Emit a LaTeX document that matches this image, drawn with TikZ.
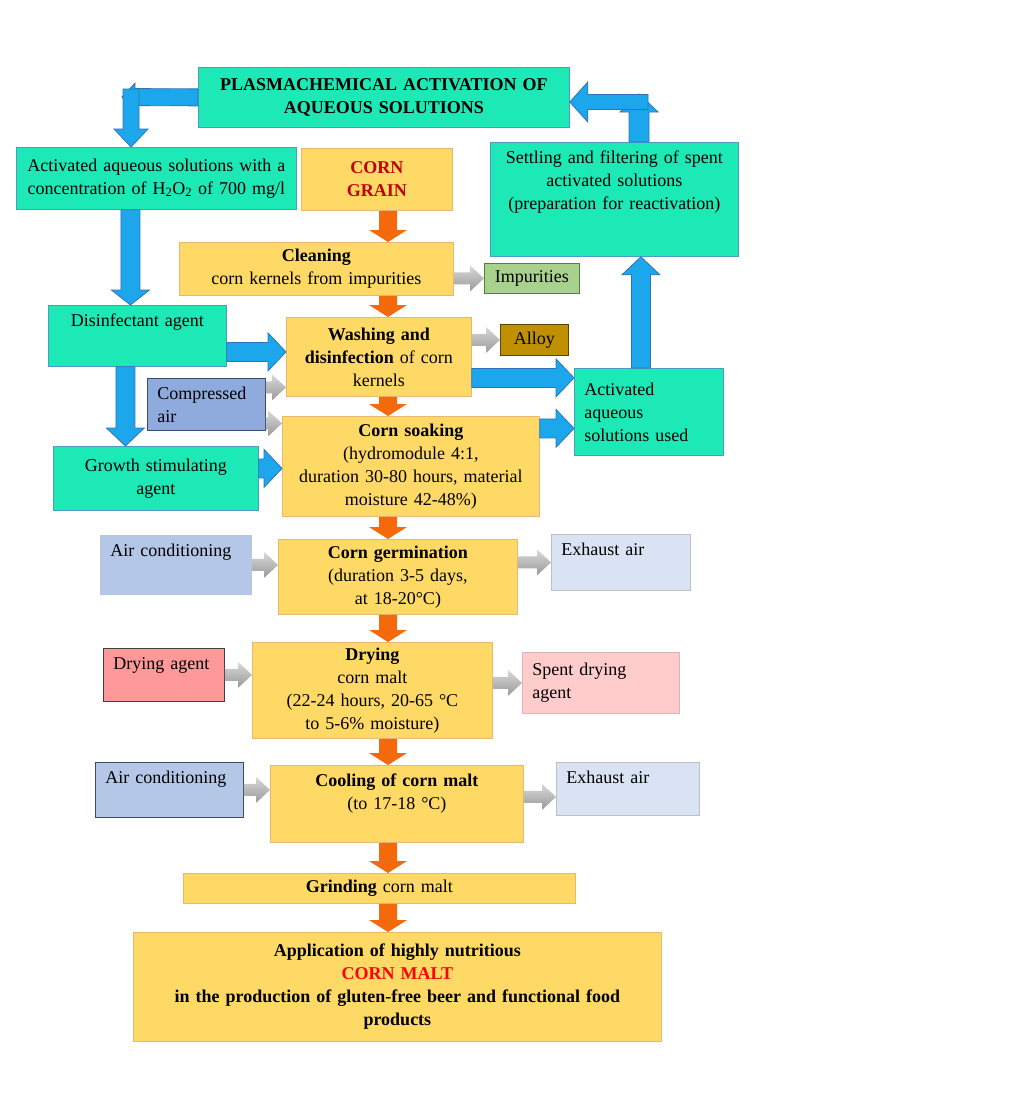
\documentclass[tikz,border=0pt]{standalone}
\usepackage{fontspec}
\setmainfont{Liberation Serif}
\usetikzlibrary{calc}
\definecolor{aquafill}{HTML}{1DE9B6}
\definecolor{aquaedge}{HTML}{4C9CC4}
\definecolor{cornfill}{HTML}{FFD966}
\definecolor{cornedge}{HTML}{E8B870}
\definecolor{orng}{HTML}{F4690C}
\definecolor{bluefill}{HTML}{1CA7EC}
\definecolor{blueedge}{HTML}{2E75B6}
\definecolor{impfill}{HTML}{A9D18E}
\definecolor{impedge}{HTML}{548235}
\definecolor{alloyfill}{HTML}{BF9000}
\definecolor{alloyedge}{HTML}{5A4500}
\definecolor{compfill}{HTML}{8FAADC}
\definecolor{compedge}{HTML}{3A4A6A}
\definecolor{airfill}{HTML}{B4C7E7}
\definecolor{exhfill}{HTML}{DAE3F3}
\definecolor{exhedge}{HTML}{BFBFBF}
\definecolor{dagfill}{HTML}{FF9999}
\definecolor{spentfill}{HTML}{FFCCCC}
\definecolor{spentedge}{HTML}{E0B4B4}
\definecolor{grainred}{HTML}{C00000}
\definecolor{maltred}{HTML}{FF0000}

% text pinned to the top of a box
\newcommand{\topin}[2]{\parbox[t][#1][t]{\linewidth}{#2}}

\tikzset{
  arrw/.store in=\arrw, arrh/.store in=\arrh, arrl/.store in=\arrl,
  arrw=9pt, arrh=19pt, arrl=12pt,
  block/.style={to path={
    let \p1=(\tikztostart), \p2=(\tikztotarget),
        \n1={atan2(\y2-\y1,\x2-\x1)} in
    ($(\p1)+({\n1+90}:\arrw)$) -- ($(\p2)!\arrl!(\p1)+({\n1+90}:\arrw)$)
    -- ($(\p2)!\arrl!(\p1)+({\n1+90}:\arrh)$) -- (\p2)
    -- ($(\p2)!\arrl!(\p1)+({\n1-90}:\arrh)$)
    -- ($(\p2)!\arrl!(\p1)+({\n1-90}:\arrw)$)
    -- ($(\p1)+({\n1-90}:\arrw)$) -- cycle}},
}

\begin{document}
\begin{tikzpicture}[x=1pt, y=-1pt,
   font=\fontsize{18}{23}\selectfont,
   box/.style={rectangle, line width=0.8pt, inner xsep=3pt, inner ysep=5pt,
               align=center, anchor=north west},
   wh/.style 2 args={minimum width=#1pt, minimum height=#2pt, text width=#1pt-6pt},
   lwh/.style 2 args={minimum width=#1pt, minimum height=#2pt, inner xsep=10pt,
                      text width=#1pt-20pt, align=left},
   aquabox/.style={box, fill=aquafill, draw=aquaedge},
   cornbox/.style={box, fill=cornfill, draw=cornedge},
   orarr/.style={fill=orng, draw=none, block, arrw=9pt, arrh=19pt, arrl=12pt},
   bluarr/.style={fill=bluefill, draw=blueedge, line width=0.8pt, block,
                  arrw=9.5pt, arrh=19pt, arrl=18pt},
   grayarr/.style={top color=gray!30, bottom color=gray!80, draw=none, block,
                   arrw=6pt, arrh=13pt, arrl=14pt},
]
  \useasboundingbox[fill=white] (0,0) rectangle (1023,1100);
  \coordinate (spine) at (388,0);

  % main line
  \node[aquabox, wh={371}{60}] (plasma) at (198,67)
       {\bfseries PLASMACHEMICAL ACTIVATION OF\\ AQUEOUS SOLUTIONS};
  \node[aquabox, wh={280}{62}] (act) at (16,147)
       {Activated aqueous solutions with a\\ concentration of H\textsubscript{2}O\textsubscript{2} of 700 mg/l};
  \node[cornbox, wh={151}{62}, text=grainred] (grain) at (301,148) {\bfseries CORN\\ GRAIN};
  \node[aquabox, wh={248}{114}] (settle) at (490,142)
       {\topin{104pt}{\centering\strut Settling and filtering of spent\\ activated solutions\\ (preparation for reactivation)}};
  \node[cornbox, wh={274}{53}] (clean) at (179,242)
       {\textbf{Cleaning}\\ corn kernels from impurities};
  \node[box, wh={95}{30}, fill=impfill, draw=impedge] (impur) at (484,263) {Impurities};
  \node[aquabox, wh={178}{61}] (disinf) at (48,305)
       {\topin{51pt}{\centering\strut Disinfectant agent}};
  \node[cornbox, wh={185}{79}] (wash) at (286,317)
       {\textbf{Washing and}\\ \textbf{disinfection} of corn\\ kernels};
  \node[box, wh={68}{31}, fill=alloyfill, draw=alloyedge] (alloy) at (500,324) {Alloy};
  \node[box, lwh={118}{52}, fill=compfill, draw=compedge] (comp) at (147,378) {Compressed\\ air};
  \node[aquabox, lwh={149}{87}] (used) at (574,368) {Activated\\ aqueous\\ solutions used};
  \node[cornbox, wh={257}{100}] (soak) at (282,416)
       {\textbf{Corn soaking}\\ (hydromodule 4:1,\\ duration 30-80 hours, material\\ moisture 42-48\%)};
  \node[aquabox, wh={205}{64}] (growth) at (53,446) {Growth stimulating\\ agent};
  \node[box, lwh={151}{59}, fill=airfill, draw=airfill] (acond1) at (100,535)
       {\topin{49pt}{\raggedright\strut Air conditioning}};
  \node[cornbox, wh={239}{75}] (germ) at (278,539)
       {\textbf{Corn germination}\\ (duration 3-5 days,\\ at 18-20°C)};
  \node[box, lwh={139}{56}, fill=exhfill, draw=exhedge] (exh1) at (551,534)
       {\topin{46pt}{\raggedright\strut Exhaust air}};
  \node[box, lwh={121}{53}, fill=dagfill, draw=black!75] (dagent) at (103,648)
       {\topin{43pt}{\raggedright\strut Drying agent}};
  \node[cornbox, wh={240}{96}] (dry) at (252,642)
       {\textbf{Drying}\\ corn malt\\ (22-24 hours, 20-65 °C\\ to 5-6\% moisture)};
  \node[box, lwh={157}{61}, fill=spentfill, draw=spentedge] (spent) at (522,652) {Spent drying\\ agent};
  \node[box, lwh={148}{55}, fill=airfill, draw=compedge] (acond2) at (95,762)
       {\topin{45pt}{\raggedright\strut Air conditioning}};
  \node[cornbox, wh={253}{77}] (cool) at (270,765)
       {\topin{67pt}{\centering\strut\textbf{Cooling of corn malt}\\ (to 17-18 °C)}};
  \node[box, lwh={143}{53}, fill=exhfill, draw=exhedge] (exh2) at (556,762)
       {\topin{43pt}{\raggedright\strut Exhaust air}};
  \node[cornbox, wh={392}{30}] (grind) at (183,873) {\textbf{Grinding} corn malt};
  \node[cornbox, wh={528}{109}] (app) at (133,932)
       {\bfseries Application of highly nutritious\\ \textcolor{maltred}{CORN MALT}\\
        in the production of gluten-free beer and functional food\\ products};

  % process flow
  \draw[orarr] (grain.south -| spine) to (clean.north -| spine);
  \draw[orarr] (clean.south -| spine) to (wash.north -| spine);
  \draw[orarr] (wash.south -| spine) to (soak.north -| spine);
  \draw[orarr] (soak.south -| spine) to (germ.north -| spine);
  \draw[orarr] (germ.south -| spine) to (dry.north -| spine);
  \draw[orarr] (dry.south -| spine) to (cool.north -| spine);
  \draw[orarr] (cool.south -| spine) to (grind.north -| spine);
  \draw[orarr] (grind.south -| spine) to (app.north -| spine);

  % solution loop
  \coordinate (ltip) at (122,97);
  \coordinate (ltop) at (131,89);
  \coordinate (rtop) at (639,94);
  \coordinate (rtail) at (648,102);
  \draw[bluarr, arrw=8.5pt, arrh=14pt, arrl=13pt] (plasma.west) to (ltip);
  \draw[bluarr, arrw=8pt, arrh=17pt] (ltop) to (ltop |- act.north);
  \draw[bluarr, arrw=10pt] (rtop |- settle.north) to (rtop);
  \draw[bluarr, arrw=7.5pt, arrh=20pt] (rtail) to (rtail -| plasma.east);
  \draw[bluarr, arrl=15pt] ([xshift=-26pt]act.south) to ([xshift=-26pt]act.south |- disinf.north);
  \draw[bluarr] ([xshift=-12pt]disinf.south) to ([xshift=-12pt]disinf.south |- growth.north);
  \draw[bluarr] ([yshift=-16pt]disinf.east) to ([yshift=-16pt]disinf.east -| wash.west);
  \draw[bluarr] ([yshift=10pt]growth.east) to ([yshift=10pt]growth.east -| soak.west);
  \draw[bluarr] ([yshift=-21pt]wash.east) to ([yshift=-21pt]wash.east -| used.west);
  \draw[bluarr] ([yshift=38pt]soak.east) to ([yshift=38pt]soak.east -| used.west);
  \draw[bluarr] ([xshift=-8pt]used.north) to ([xshift=-8pt]used.north |- settle.south);

  % side streams
  \path[grayarr] (clean.east |- impur.west) to (impur.west);
  \path[grayarr] (wash.east |- alloy.west) to (alloy.west);
  \path[grayarr] ([yshift=17pt]comp.east) to ([yshift=17pt]comp.east -| wash.west);
  \path[grayarr] ([yshift=-19pt]comp.east) to ([yshift=-19pt]comp.east -| soak.west);
  \path[grayarr] (acond1.east) to (acond1.east -| germ.west);
  \path[grayarr] (germ.east |- exh1.west) to (exh1.west);
  \path[grayarr] (dagent.east) to (dagent.east -| dry.west);
  \path[grayarr] (dry.east |- spent.west) to (spent.west);
  \path[grayarr] (acond2.east) to (acond2.east -| cool.west);
  \path[grayarr] ([yshift=-8pt]exh2.west -| cool.east) to ([yshift=-8pt]exh2.west);
\end{tikzpicture}
\end{document}
